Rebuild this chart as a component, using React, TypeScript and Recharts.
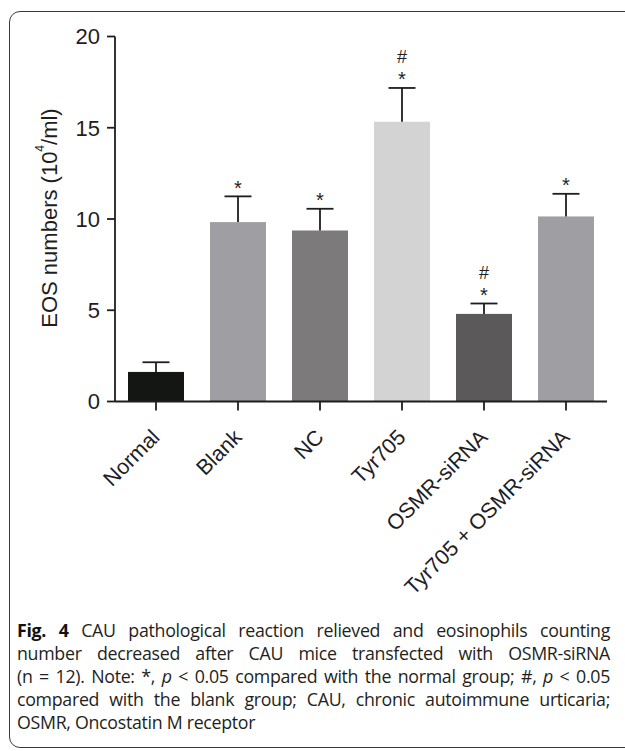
import { BarChart, Bar, XAxis, YAxis, Cell } from "recharts";

const groups = ["Normal", "Blank", "NC", "Tyr705", "OSMR-siRNA", "Tyr705 + OSMR-siRNA"];
const means = [1.62, 9.83, 9.37, 15.33, 4.8, 10.14];
const sems = [0.53, 1.41, 1.19, 1.85, 0.57, 1.24];
const vsNormal = ["", "*", "*", "*", "*", "*"];
const vsBlank = ["", "", "", "#", "#", ""];
const yTicks = [0, 5, 10, 15, 20];

const barColors = ["#141614", "#9f9ea3", "#7c7a7b", "#d3d3d3", "#5b595a", "#9f9ea3"];
const ink = "#1f1d1e";
const chartFont = "'Liberation Sans', Arial, Helvetica, sans-serif";

const data = groups.map((name, i) => ({
  name,
  value: means[i],
  err: sems[i],
  star: vsNormal[i],
  hash: vsBlank[i],
}));

function BarWithError(props: any) {
  const { x, y, width, height, index, payload } = props;
  const cx = x + width / 2;
  const pxPerUnit = height / payload.value;
  const capY = y - payload.err * pxPerUnit;
  return (
    <g>
      <rect x={x} y={y} width={width} height={height} fill={barColors[index]} />
      <line x1={cx} y1={y} x2={cx} y2={capY} stroke={ink} strokeWidth={1.8} />
      <line x1={cx - 13.5} y1={capY} x2={cx + 13.5} y2={capY} stroke={ink} strokeWidth={1.8} />
      {payload.star && (
        <text x={cx} y={capY - 1.5} textAnchor="middle" fontSize={20} fontFamily={chartFont} fill={ink}>
          {payload.star}
        </text>
      )}
      {payload.hash && (
        <text x={cx} y={capY - 24.5} textAnchor="middle" fontSize={18} fontFamily={chartFont} fill={ink}>
          {payload.hash}
        </text>
      )}
    </g>
  );
}

function GroupTick(props: any) {
  const { x, y, payload } = props;
  const ax = x + 5;
  const ay = y + 26;
  return (
    <text
      x={ax}
      y={ay}
      textAnchor="end"
      fontSize={21.5}
      fontFamily={chartFont}
      fill={ink}
      transform={`rotate(-45 ${ax} ${ay})`}
    >
      {payload.value}
    </text>
  );
}

function YTitle() {
  const cx = 49;
  const cy = 218;
  return (
    <text
      x={cx}
      y={cy}
      textAnchor="middle"
      dominantBaseline="central"
      fontSize={22}
      fontFamily={chartFont}
      fill={ink}
      transform={`rotate(-90 ${cx} ${cy})`}
    >
      EOS numbers (10
      <tspan fontSize={12} dy={-9}>4</tspan>
      <tspan dy={9}>/ml)</tspan>
    </text>
  );
}

const captionLines = [
  <>
    <b style={{ color: "#111" }}>Fig. 4</b> CAU pathological reaction relieved and eosinophils counting
  </>,
  <>number decreased after CAU mice transfected with OSMR-siRNA</>,
  <>
    (n = 12). Note: *, <i>p</i> &lt; 0.05 compared with the normal group; #, <i>p</i> &lt; 0.05
  </>,
  <>compared with the blank group; CAU, chronic autoimmune urticaria;</>,
  <>OSMR, Oncostatin M receptor</>,
];

export default function App() {
  return (
    <div style={{ position: "absolute", left: 0, top: 0, width: 625, height: 751, overflow: "hidden", background: "#fff" }}>
      <div
        style={{
          position: "absolute",
          left: 9,
          top: 11,
          width: 640,
          height: 737,
          border: "1.5px solid #3a3a3a",
          borderRadius: 11,
          boxSizing: "border-box",
        }}
      />
      <div style={{ position: "absolute", left: 0, top: 0 }}>
        <BarChart
          width={625}
          height={640}
          data={data}
          margin={{ top: 36.5, right: 18, bottom: 38.5, left: 0 }}
        >
          <XAxis
            dataKey="name"
            interval={0}
            height={200}
            tick={<GroupTick />}
            tickSize={9}
            axisLine={{ stroke: ink, strokeWidth: 1.8 }}
            tickLine={{ stroke: ink, strokeWidth: 1.8 }}
          />
          <YAxis
            domain={[0, 20]}
            ticks={yTicks}
            width={115}
            tickSize={8}
            tickMargin={7}
            axisLine={{ stroke: ink, strokeWidth: 1.8 }}
            tickLine={{ stroke: ink, strokeWidth: 1.8 }}
            tick={{ fontSize: 22, fontFamily: chartFont, fill: ink }}
            label={<YTitle />}
          />
          <Bar dataKey="value" barSize={56} isAnimationActive={false} shape={<BarWithError />}>
            {data.map((d, i) => (
              <Cell key={d.name} fill={barColors[i]} />
            ))}
          </Bar>
        </BarChart>
      </div>
      <div
        style={{
          position: "absolute",
          left: 17,
          top: 619,
          width: 593,
          fontFamily: "'Open Sans', 'Noto Sans', sans-serif",
          fontSize: 17.8,
          lineHeight: "22.9px",
          letterSpacing: -0.3,
          color: "#231f20",
        }}
      >
        {captionLines.map((line, i) => (
          <div
            key={i}
            style={{
              whiteSpace: "nowrap",
              textAlign: i < captionLines.length - 1 ? "justify" : "left",
              textAlignLast: i < captionLines.length - 1 ? "justify" : "left",
            }}
          >
            {line}
          </div>
        ))}
      </div>
    </div>
  );
}
